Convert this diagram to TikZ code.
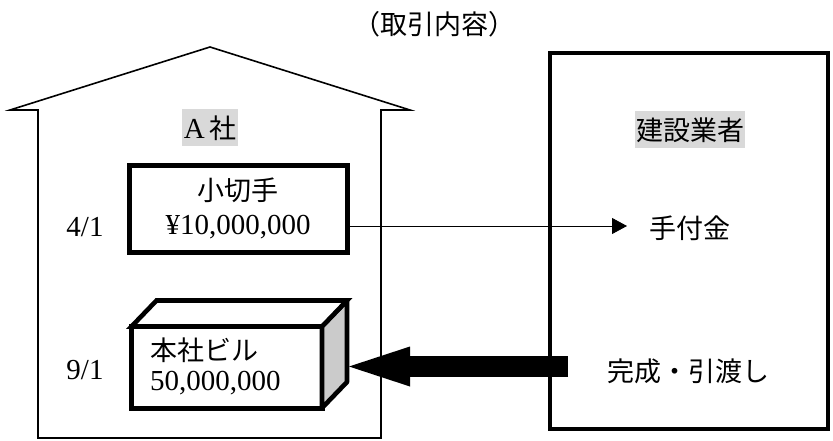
\documentclass[tikz,border=0pt]{standalone}
\usepackage{fontspec}
\setmainfont{Liberation Serif}
\newfontfamily\jp{Noto Sans CJK JP}
\usetikzlibrary{arrows.meta}
\definecolor{hlgray}{HTML}{D9D9D9}
\definecolor{sidegray}{HTML}{CBCBCB}
\begin{document}
\begin{tikzpicture}[x=1pt,y=-1pt,
  jt/.style={font=\jp\fontsize{27}{32}\selectfont, inner sep=0pt},
  lt/.style={font=\rmfamily\fontsize{29}{32}\selectfont, inner sep=0pt},
  thickbox/.style={draw, line width=5pt, outer sep=0pt, inner sep=0pt, line join=miter},
  face/.style={draw, line width=4.6pt},
  hl/.style={fill=hlgray, minimum height=37pt, inner ysep=0pt}]
\useasboundingbox (0,0) rectangle (833,441);

% house
\draw[line width=1.6pt, line join=miter] (38,438) -- (38,110) -- (10,110) -- (210,47)
  -- (410,110) -- (381,110) -- (381,438) -- cycle;

% contractor box
\node[draw, line width=4.5pt, outer sep=0pt, minimum width=278pt, minimum height=376pt] (contractor) at (689,241) {};

% title
\node[jt] (title) at (434,24) {（取引内容）};

% highlighted labels
\node[hl, jt, inner xsep=2pt] (asha) at (210,128) {{\rmfamily\fontsize{29}{32}\selectfont A}\,社};
\node[hl, jt, inner xsep=1pt] (kensetsu) at (690,130) {建設業者};

% dates
\node[lt] (d1) at (85,227) {4/1};
\node[lt] (d2) at (85,370) {9/1};

% check box
\node[thickbox, minimum width=218pt, minimum height=87pt] (check) at (238.5,209) {};
\node[jt] (kogitte) at (238,190) {小切手};
\node[lt] (amt1) at (238,227) {¥10,000,000};

% building
\node[thickbox, fill=white, minimum width=190.5pt, minimum height=81.5pt] (bld) at (226.75,367.25) {};
\draw[face, fill=sidegray, line join=bevel] (bld.north east) -- ++(25,-26) -- ++(0,81.5) -- (bld.south east) -- cycle;
\draw[face, fill=white, line join=miter, miter limit=3] (bld.north west) -- ++(25,-26) -- ++(190.5,0) -- (bld.north east) -- cycle;
\node[jt, anchor=west] (honsha) at (150,350) {本社ビル};
\node[lt, anchor=west] (amt2) at (150,383) {50,000,000};

% contractor texts
\node[jt] (tetsuke) at (690,228) {手付金};
\node[jt] (kansei) at (688,371) {完成・引渡し};

% thin arrow
\coordinate (tip1) at (627,226);
\draw[line width=0.8pt, -{Triangle[length=15pt,width=16pt]}] (check.east |- tip1) -- (tip1);

% big arrow
\coordinate (bstart) at (568,366.5);
\coordinate (bend) at (349,366.5);
\draw[line width=21pt, -{Triangle[length=61pt,width=40pt,line width=0pt]}] (bstart) -- (bend);
\end{tikzpicture}
\end{document}
